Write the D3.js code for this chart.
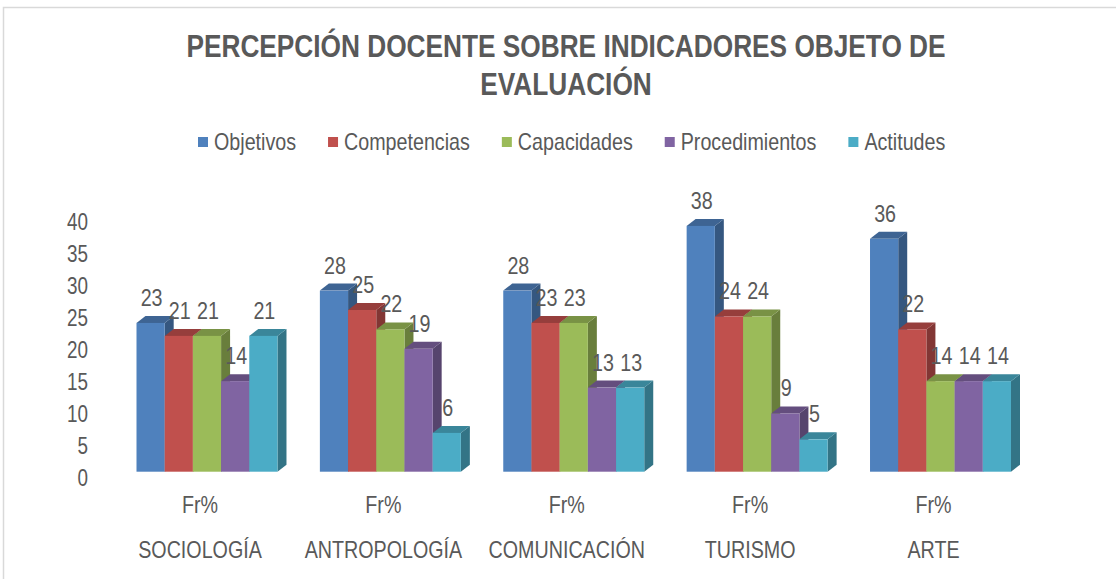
<!DOCTYPE html>
<html>
<head>
<meta charset="utf-8">
<script src="https://cdn.jsdelivr.net/npm/d3@7"></script>
<style>
  body { margin: 0; background: #fff; }
  text { font-family: "Liberation Sans", Arial, sans-serif; fill: #595959; }
</style>
</head>
<body>
<div id="chart"></div>
<script>
// categories and series
var categories = ['SOCIOLOGÍA', 'ANTROPOLOGÍA', 'COMUNICACIÓN', 'TURISMO', 'ARTE'];
var seriesNames = ['Objetivos', 'Competencias', 'Capacidades', 'Procedimientos', 'Actitudes'];
var objetivos      = [23, 28, 28, 38, 36];
var competencias   = [21, 25, 23, 24, 22];
var capacidades    = [21, 22, 23, 24, 14];
var procedimientos = [14, 19, 13,  9, 14];
var actitudes      = [21,  6, 13,  5, 14];
var yTicks = [0, 5, 10, 15, 20, 25, 30, 35, 40];
var subLabel = 'Fr%';
var titleLines = ['PERCEPCIÓN DOCENTE SOBRE INDICADORES OBJETO DE', 'EVALUACIÓN'];

var seriesValues = [objetivos, competencias, capacidades, procedimientos, actitudes];
var colors = ['#4f81bd', '#c0504d', '#9bbb59', '#8064a2', '#4bacc6'];

var width = 1116,
    height = 579,
    depth = {dx: 9, dy: 7},
    squeeze = 0.82;   // no narrow font installed, so squeeze the glyphs

// squeeze text horizontally to look like Arial Narrow
function narrow(sel) {
  sel.each(function () {
    var w = this.getComputedTextLength();
    d3.select(this)
      .attr('textLength', w * squeeze)
      .attr('lengthAdjust', 'spacingAndGlyphs');
  });
}

var svg = d3.select('#chart')
  .append('svg')
  .attr('width', width)
  .attr('height', height);

// outer frame (only top and left edges show)
svg.append('rect')
  .attr('x', 3.5).attr('y', 7.5)
  .attr('width', 1300).attr('height', 1000)
  .attr('fill', '#fff')
  .attr('stroke', '#d9d9d9')
  .attr('stroke-width', 1.5);

var xScale = d3.scaleBand()
  .domain(categories)
  .range([115.3, 1032.2])
  .paddingInner(0.2312)
  .paddingOuter(0.1156);

var sScale = d3.scaleBand()
  .domain(seriesNames)
  .range([0, xScale.bandwidth()]);

var yScale = d3.scaleLinear()
  .domain([0, 40])
  .range([471.7, 213]);

// the value axis labels sit a little lower than the bar floor
var axisScale = yScale.copy().range([478, 222]);

var yAxis = d3.axisLeft(axisScale)
  .tickValues(yTicks)
  .tickSize(0)
  .tickPadding(0);

svg.append('g')
  .attr('transform', 'translate(88,0)')
  .call(yAxis)
  .call(function (g) { g.select('.domain').remove(); })
  .selectAll('text')
  .attr('font-size', 23)
  .attr('fill', '#595959')
  .attr('font-family', null)
  .call(narrow);

// title
svg.selectAll('text.title').data(titleLines)
  .enter().append('text')
  .attr('class', 'title')
  .attr('x', 566)
  .attr('y', function (d, i) { return 57 + i * 38; })
  .attr('text-anchor', 'middle')
  .attr('font-size', 32)
  .attr('font-weight', 'bold')
  .text(function (d) { return d; })
  .call(narrow);

// legend
var legend = svg.append('g').attr('transform', 'translate(198,0)');
var lx = 0;
seriesNames.forEach(function (name, j) {
  var item = legend.append('g').attr('transform', 'translate(' + lx + ',0)');
  item.append('rect')
    .attr('x', 0).attr('y', 137)
    .attr('width', 10).attr('height', 10)
    .attr('fill', colors[j]);
  var t = item.append('text')
    .attr('x', 16).attr('y', 150)
    .attr('font-size', 24)
    .text(name)
    .call(narrow);
  lx += 16 + (+t.attr('textLength')) + 32;
});

// 3d bars, drawn left to right so each front hides the previous side
var bars = [];
categories.forEach(function (cat, i) {
  seriesNames.forEach(function (name, j) {
    bars.push({cat: cat, name: name, value: seriesValues[j][i], color: colors[j]});
  });
});

var barG = svg.selectAll('g.bar').data(bars)
  .enter().append('g')
  .attr('class', 'bar');

function x0(d) { return xScale(d.cat) + sScale(d.name); }
var bw = sScale.bandwidth();

barG.append('polygon')
  .attr('fill', function (d) { return d3.color(d.color).darker(1.1); })
  .attr('points', function (d) {
    var x = x0(d) + bw, yt = yScale(d.value), yb = yScale(0);
    return [[x, yt], [x + depth.dx, yt - depth.dy], [x + depth.dx, yb - depth.dy], [x, yb]].join(' ');
  });

barG.append('polygon')
  .attr('fill', function (d) { return d3.color(d.color).darker(0.7); })
  .attr('points', function (d) {
    var x = x0(d), yt = yScale(d.value);
    return [[x, yt], [x + bw, yt], [x + bw + depth.dx, yt - depth.dy], [x + depth.dx, yt - depth.dy]].join(' ');
  });

barG.append('rect')
  .attr('x', x0)
  .attr('y', function (d) { return yScale(d.value); })
  .attr('width', bw)
  .attr('height', function (d) { return yScale(0) - yScale(d.value); })
  .attr('fill', function (d) { return d.color; });

// data labels
svg.selectAll('text.value').data(bars)
  .enter().append('text')
  .attr('class', 'value')
  .attr('x', function (d) { return x0(d) + bw / 2 + 1; })
  .attr('y', function (d) { return yScale(d.value) - 17; })
  .attr('text-anchor', 'middle')
  .attr('font-size', 24)
  .attr('fill', '#404040')
  .text(function (d) { return d.value; })
  .call(narrow);

// category labels
var catG = svg.selectAll('g.cat').data(categories)
  .enter().append('g')
  .attr('class', 'cat')
  .attr('transform', function (d) { return 'translate(' + (xScale(d) + xScale.bandwidth() / 2 - 7) + ',0)'; });

catG.append('text')
  .attr('y', 513)
  .attr('text-anchor', 'middle')
  .attr('font-size', 24)
  .text(subLabel)
  .call(narrow);

catG.append('text')
  .attr('y', 558)
  .attr('text-anchor', 'middle')
  .attr('font-size', 24)
  .text(function (d) { return d; })
  .call(narrow);
</script>
</body>
</html>
